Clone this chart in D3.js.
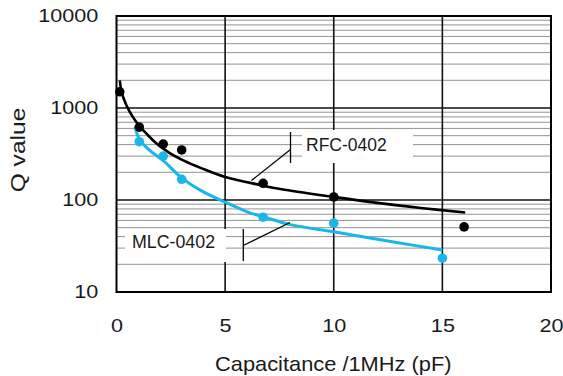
<!DOCTYPE html>
<html><head><meta charset="utf-8">
<script src="https://cdn.jsdelivr.net/npm/d3@7"></script>
<style>
html,body{margin:0;padding:0;background:#fff;}
text{font-family:"Liberation Sans",Arial,Helvetica,sans-serif;fill:#1a1a1a;}
</style></head>
<body>
<svg id="chart" width="563" height="376"></svg>
<script>
// ---- data ----
const xTicks = [0, 5, 10, 15, 20];
const yTicks = [10, 100, 1000, 10000];
const rfcPointX = [0.15, 1.05, 2.15, 3.0, 6.75, 10.0, 16.0];
const rfcPointY = [1500, 620, 405, 350, 152, 108, 51];
const mlcPointX = [1.05, 2.15, 3.0, 6.75, 10.0, 15.0];
const mlcPointY = [430, 300, 168, 65, 56, 23.3];
const rfcCurveX = [0.15, 0.25, 0.45, 0.75, 1.05, 1.4, 1.8, 2.4, 3.1, 3.9, 5.0, 6.6, 7.6, 10.0, 12.0, 14.0, 16.05];
const rfcCurveY = [2000, 1450, 1080, 800, 640, 520, 420, 330, 268, 222, 178, 146, 131, 108, 93, 82, 73];
const mlcCurveX = [0.85, 1.05, 1.5, 2.15, 3.0, 3.85, 5.05, 6.1, 6.75, 8.0, 10.0, 12.75, 15.0];
const mlcCurveY = [627, 460, 350, 268, 174, 128, 93.5, 73, 65.8, 54, 45.2, 35, 28.6];
const seriesNames = ["RFC-0402", "MLC-0402"];
const xTitle = "Capacitance /1MHz (pF)";
const yTitle = "Q value";

// ---- layout ----
const L = 116.5, R = 551, T = 16, B = 292;
const svg = d3.select("#chart");
const x = d3.scaleLinear().domain([0, 20]).range([L, R]);
const y = d3.scaleLog().domain([10, 10000]).range([B, T]);
const black = "#000", cyan = "#1ab6e8";

// minor grid
const minor = [];
[10, 100, 1000].forEach(d => { for (let k = 2; k <= 9; k++) minor.push(d * k); });
svg.append("g").selectAll("line").data(minor).join("line")
  .attr("x1", L).attr("x2", R).attr("y1", d => y(d)).attr("y2", d => y(d))
  .attr("stroke", "#939393").attr("stroke-width", 1);
// major grid
svg.append("g").selectAll("line").data([100, 1000]).join("line")
  .attr("x1", L).attr("x2", R).attr("y1", d => y(d)).attr("y2", d => y(d))
  .attr("stroke", "#111").attr("stroke-width", 1.6);
svg.append("g").selectAll("line").data([5, 10, 15]).join("line")
  .attr("y1", T).attr("y2", B).attr("x1", d => x(d)).attr("x2", d => x(d))
  .attr("stroke", "#111").attr("stroke-width", 1.6);

// label boxes (white, hide grid)
svg.append("rect").attr("x", 302).attr("y", 130).attr("width", 111).attr("height", 33).attr("fill", "#fff");
svg.append("rect").attr("x", 125).attr("y", 229).attr("width", 101).attr("height", 33).attr("fill", "#fff");

// frame
svg.append("rect").attr("x", L).attr("y", T).attr("width", R - L).attr("height", B - T)
  .attr("fill", "none").attr("stroke", "#000").attr("stroke-width", 2);

// curves
const line = d3.line().x(d => x(d[0])).y(d => y(d[1])).curve(d3.curveCatmullRom.alpha(0.5));
svg.append("path").datum(mlcCurveX.map((v, i) => [v, mlcCurveY[i]]))
  .attr("d", line).attr("fill", "none").attr("stroke", cyan).attr("stroke-width", 3);
svg.append("path").datum(rfcCurveX.map((v, i) => [v, rfcCurveY[i]]))
  .attr("d", line).attr("fill", "none").attr("stroke", black).attr("stroke-width", 2.6);

// points
svg.append("g").selectAll("circle").data(mlcPointX.map((v, i) => [v, mlcPointY[i]])).join("circle")
  .attr("cx", d => x(d[0])).attr("cy", d => y(d[1])).attr("r", 4.8).attr("fill", cyan);
svg.append("g").selectAll("circle").data(rfcPointX.map((v, i) => [v, rfcPointY[i]])).join("circle")
  .attr("cx", d => x(d[0])).attr("cy", d => y(d[1])).attr("r", 4.8).attr("fill", black);

// leader lines
const lead = svg.append("g").attr("stroke", "#000").attr("stroke-width", 1.3);
lead.append("line").attr("x1", 290.5).attr("x2", 290.5).attr("y1", 132).attr("y2", 163);
lead.append("line").attr("x1", 290.5).attr("y1", 149.5).attr("x2", 251.5).attr("y2", 180.5);
lead.append("line").attr("x1", 243.3).attr("x2", 243.3).attr("y1", 229).attr("y2", 261);
lead.append("line").attr("x1", 243.3).attr("y1", 245.5).attr("x2", 290).attr("y2", 222.5);

// legend texts
svg.append("text").attr("x", 306).attr("y", 150.7).attr("font-size", 17.5).text(seriesNames[0]);
svg.append("text").attr("x", 132).attr("y", 248.3).attr("font-size", 17.8).text(seriesNames[1]);

// axes
const sx = 1.17;
const yAxis = svg.append("g").attr("transform", `translate(${L},0)`)
  .call(d3.axisLeft(y).tickValues(yTicks).tickFormat(d3.format("d")).tickSize(0).tickPadding(15.5));
yAxis.select(".domain").remove();
yAxis.selectAll("text").attr("font-size", 18.5).attr("transform", `scale(${sx},1)`)
  .style("font-family", '"Liberation Sans",Arial,sans-serif').attr("fill", "#1a1a1a");

const xAxis = svg.append("g").attr("transform", `translate(0,${B})`)
  .call(d3.axisBottom(x).tickValues(xTicks).tickFormat(d3.format("d")).tickSize(0).tickPadding(27));
xAxis.select(".domain").remove();
xAxis.selectAll("text").attr("font-size", 18.5).attr("transform", `scale(${sx},1)`)
  .style("font-family", '"Liberation Sans",Arial,sans-serif').attr("fill", "#1a1a1a");

svg.append("text").attr("text-anchor", "middle")
  .attr("transform", `translate(${(L + R) / 2 - 0.5},371) scale(1.04,1)`)
  .attr("font-size", 21).text(xTitle);
svg.append("text").attr("text-anchor", "middle")
  .attr("transform", `translate(25,150) rotate(-90) scale(1.17,1)`)
  .attr("font-size", 21).text(yTitle);
</script>
</body></html>
